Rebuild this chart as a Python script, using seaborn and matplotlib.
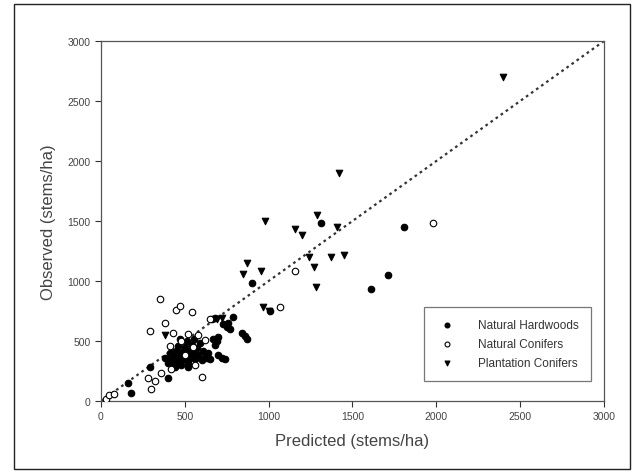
import matplotlib
matplotlib.use("Agg")
import matplotlib.pyplot as plt
import seaborn as sns
import pandas as pd
from matplotlib.patches import Rectangle

# ---- data ----
hw_x = [160, 180, 290, 400, 380, 400, 410, 420, 430, 440, 450, 455, 460, 470, 480, 485, 490, 500, 505, 510,
        520, 525, 530, 540, 550, 555, 560, 570, 580, 590, 600, 610, 620, 630, 640, 650, 670, 680, 690, 700,
        700, 720, 740, 750, 760, 770, 790, 840, 860, 870, 900, 1010, 1310, 1610, 1710, 1810, 730, 660, 680,
        470, 440, 520]
hw_y = [150, 70, 280, 190, 360, 320, 400, 350, 300, 380, 420, 330, 460, 370, 300, 410, 350, 450, 380, 500,
        320, 420, 360, 470, 400, 520, 350, 440, 380, 480, 340, 420, 370, 360, 400, 350, 520, 470, 500, 530,
        380, 360, 350, 620, 650, 600, 700, 570, 540, 520, 980, 750, 1480, 930, 1050, 1450, 640, 680, 690,
        520, 280, 280]

nc_x = [30, 50, 80, 280, 300, 320, 350, 355, 380, 420, 450, 470, 480, 500, 520, 540, 550, 560, 580, 600,
        620, 650, 1070, 1160, 1980, 430, 410, 290]
nc_y = [20, 50, 60, 190, 100, 170, 850, 235, 650, 270, 760, 790, 500, 380, 560, 740, 450, 300, 550, 200,
        510, 680, 780, 1080, 1480, 570, 460, 580]

pc_x = [380, 690, 845, 870, 955, 965, 1000, 980, 1160, 1200, 1240, 1270, 1280, 1290, 1370, 1410, 1420,
        1450, 2400, 720]
pc_y = [550, 680, 1060, 1150, 1080, 780, 750, 1500, 1430, 1380, 1200, 1120, 950, 1550, 1200, 1450, 1900,
        1220, 2700, 690]

groups = ["Natural Hardwoods", "Natural Conifers", "Plantation Conifers"]

df = pd.DataFrame({
    "Predicted": hw_x + nc_x + pc_x,
    "Observed": hw_y + nc_y + pc_y,
    "Group": [groups[0]] * len(hw_x) + [groups[1]] * len(nc_x) + [groups[2]] * len(pc_x),
})

sns.set_style("ticks")
plt.rcParams["font.family"] = ["Liberation Sans", "DejaVu Sans"]

fig = plt.figure(figsize=(6.44, 4.77), dpi=100)
ax = fig.add_axes([101 / 644, 1 - 402 / 477, 503 / 644, 360 / 477])

ax.plot([0, 3000], [0, 3000], linestyle=(0, (1.2, 1.6)), color="#333333", linewidth=1.6, zorder=1)

markers = {groups[0]: "o", groups[1]: "o", groups[2]: "v"}

for g, fc in zip(groups, ["black", "white", "black"]):
    sub = df[df["Group"] == g]
    sns.scatterplot(data=sub, x="Predicted", y="Observed", marker=markers[g], s=22,
                    facecolor=fc, edgecolor="black", linewidth=0.8, ax=ax, label=g, zorder=3)

ax.set_xlim(0, 3000)
ax.set_ylim(0, 3000)
ax.set_xticks(range(0, 3001, 500))
ax.set_yticks(range(0, 3001, 500))
ax.tick_params(direction="out", length=4, width=0.8, labelsize=7.5, colors="#333333", labelcolor="#444444")
for sp in ax.spines.values():
    sp.set_visible(True)
    sp.set_color("#555555")
    sp.set_linewidth(0.9)

ax.set_xlabel("Predicted (stems/ha)", fontsize=12, color="#444444", labelpad=8)
ax.set_ylabel("Observed (stems/ha)", fontsize=12, color="#444444", labelpad=8)

leg = ax.legend(loc="lower right", bbox_to_anchor=(0.985, 0.04), fontsize=8.5, frameon=True,
                fancybox=False, edgecolor="#555555", borderpad=1.0, handletextpad=1.6,
                labelspacing=0.6, markerscale=0.75)
leg.get_frame().set_linewidth(0.9)
for t in leg.get_texts():
    t.set_color("#333333")

fig.patches.append(Rectangle((14 / 644, 1 - 470 / 477), 616 / 644, 465 / 477, transform=fig.transFigure,
                             fill=False, edgecolor="#222222", linewidth=1.0))

fig.savefig("out.png", dpi=100)
